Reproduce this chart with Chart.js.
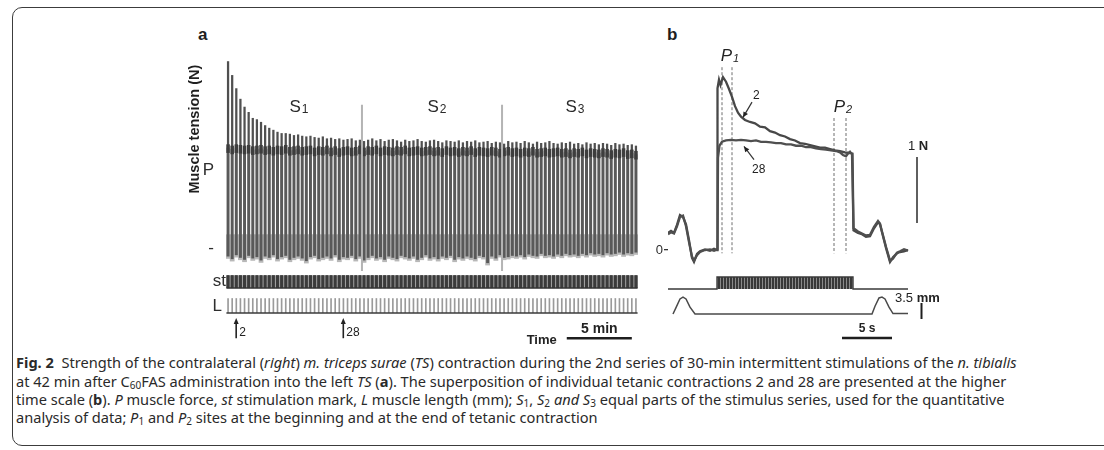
<!DOCTYPE html>
<html>
<head>
<meta charset="utf-8">
<script src="https://cdn.jsdelivr.net/npm/chart.js@4.4.1/dist/chart.umd.min.js"></script>
<style>
  html, body { margin: 0; padding: 0; background: #fff; }
  body { position: relative; width: 1104px; height: 450px; overflow: hidden; font-family: "Liberation Sans", Arial, sans-serif; color: #262626; }
  .frame { position: absolute; left: 12px; top: 7px; width: 1130px; height: 437px; border: 1.5px solid #3c3c3c; border-radius: 10px; }
  canvas { position: absolute; }
  .tag { position: absolute; font-weight: bold; font-size: 17px; line-height: 1; color: #1e1e1e; }
  .cap { position: absolute; left: 16px; white-space: nowrap; font-family: "Noto Sans", sans-serif; font-size: 14.6px; line-height: 1; color: #2a2a2a; }
  .cap sub { font-size: 10px; vertical-align: -2px; line-height: 0; }
</style>
</head>
<body>
<div class="frame"></div>
<div class="tag" style="left:198px;top:26px">a</div>
<div class="tag" style="left:667px;top:26px">b</div>

<canvas id="aTrace" width="458" height="221" style="left:180px;top:50px"></canvas>
<canvas id="aStim" width="458" height="24" style="left:180px;top:268px"></canvas>
<canvas id="aLength" width="458" height="55" style="left:180px;top:292px"></canvas>

<canvas id="bTrace" width="328" height="232" style="left:640px;top:40px"></canvas>
<canvas id="bStim" width="328" height="20" style="left:640px;top:272px"></canvas>
<canvas id="bLength" width="328" height="55" style="left:640px;top:292px"></canvas>

<div class="cap" style="top:355px"><b>Fig. 2</b>&nbsp; Strength of the contralateral (<i>right</i>) <i>m. triceps surae</i> (<i>TS</i>) contraction during the 2nd series of 30-min intermittent stimulations of the <i>n. tibialis</i></div>
<div class="cap" style="top:374px">at 42 min after C<sub>60</sub>FAS administration into the left <i>TS</i> (<b>a</b>). The superposition of individual tetanic contractions 2 and 28 are presented at the higher</div>
<div class="cap" style="top:392px">time scale (<b>b</b>). <i>P</i> muscle force, <i>st</i> stimulation mark, <i>L</i> muscle length (mm); <i>S</i><sub>1</sub>, <i>S</i><sub>2</sub> <i>and S</i><sub>3</sub> equal parts of the stimulus series, used for the quantitative</div>
<div class="cap" style="top:410px">analysis of data; <i>P</i><sub>1</sub> and <i>P</i><sub>2</sub> sites at the beginning and at the end of tetanic contraction</div>

<script>
// ---------- panel a: whole series, one value per tetanic contraction ----------
// peak force at the start of each tetanus (P1), N
const peakN = [
  2.83, 2.62, 2.42, 2.26, 2.14, 2.06, 1.97, 1.95, 1.91, 1.86,
  1.82, 1.79, 1.76, 1.74, 1.74, 1.73, 1.71, 1.72, 1.70, 1.69,
  1.70, 1.68, 1.67, 1.69, 1.66, 1.67, 1.65, 1.66, 1.64, 1.65,
  1.66, 1.63, 1.64, 1.62, 1.64, 1.66, 1.63, 1.65, 1.62, 1.64,
  1.65, 1.63, 1.61, 1.64, 1.62, 1.63, 1.65, 1.62, 1.61, 1.63,
  1.64, 1.62, 1.60, 1.63, 1.62, 1.61, 1.63, 1.60, 1.62, 1.61,
  1.63, 1.60, 1.61, 1.62, 1.59, 1.61, 1.60, 1.58, 1.62, 1.60,
  1.61, 1.59, 1.62, 1.60, 1.58, 1.61, 1.59, 1.60, 1.62, 1.59,
  1.58, 1.60, 1.59, 1.61, 1.58, 1.59, 1.57, 1.60, 1.58, 1.59,
  1.57, 1.59, 1.58, 1.56, 1.59, 1.57, 1.58, 1.56, 1.57, 1.55
];
// force at the end of each tetanus (P2), N
const endN = [
  1.52, 1.50, 1.52, 1.51, 1.50, 1.51, 1.49, 1.50, 1.51, 1.49,
  1.50, 1.48, 1.50, 1.49, 1.51, 1.48, 1.49, 1.50, 1.48, 1.49,
  1.50, 1.47, 1.49, 1.48, 1.50, 1.47, 1.49, 1.46, 1.48, 1.49,
  1.47, 1.48, 1.50, 1.47, 1.49, 1.48, 1.50, 1.47, 1.49, 1.48,
  1.47, 1.49, 1.48, 1.50, 1.47, 1.48, 1.49, 1.47, 1.48, 1.49,
  1.47, 1.48, 1.46, 1.49, 1.47, 1.48, 1.46, 1.48, 1.47, 1.49,
  1.46, 1.48, 1.47, 1.46, 1.48, 1.47, 1.45, 1.47, 1.48, 1.46,
  1.47, 1.45, 1.47, 1.46, 1.48, 1.45, 1.46, 1.47, 1.45, 1.46,
  1.47, 1.45, 1.46, 1.44, 1.46, 1.45, 1.47, 1.44, 1.46, 1.45,
  1.44, 1.46, 1.45, 1.43, 1.45, 1.44, 1.46, 1.43, 1.44, 1.42
];
// deepest dip of the length-change artefact between trains, N
const troughN = [
  -0.16, -0.20, -0.14, -0.18, -0.21, -0.15, -0.19, -0.17, -0.22, -0.16,
  -0.18, -0.14, -0.20, -0.17, -0.15, -0.21, -0.18, -0.16, -0.19, -0.23,
  -0.17, -0.15, -0.20, -0.18, -0.16, -0.19, -0.14, -0.21, -0.17, -0.18,
  -0.15, -0.20, -0.16, -0.22, -0.18, -0.15, -0.19, -0.17, -0.21, -0.16,
  -0.18, -0.20, -0.15, -0.17, -0.19, -0.16, -0.21, -0.18, -0.14, -0.19,
  -0.17, -0.20, -0.16, -0.18, -0.15, -0.21, -0.17, -0.19, -0.16, -0.18,
  -0.20, -0.15, -0.17, -0.26, -0.16, -0.19, -0.14, -0.18, -0.17, -0.15,
  -0.16, -0.14, -0.17, -0.13, -0.15, -0.16, -0.12, -0.15, -0.14, -0.16,
  -0.13, -0.15, -0.12, -0.14, -0.13, -0.15, -0.12, -0.14, -0.11, -0.13,
  -0.12, -0.14, -0.11, -0.13, -0.12, -0.10, -0.13, -0.11, -0.12, -0.10
];
const contractionNo = peakN.map((_, i) => i + 1);
const restTopN = 0.2;         // upper edge of the inter-train artefact
const cycleSec = 19;          // one stimulation cycle, s
const sectionBreaks = [33.5, 67.5];   // S1 | S2 | S3
const sectionNames = ['1', '2', '3'];
const sectionTopN = 2.17;
const pLabelN = 1.18;
const lengthShiftMm = 3.3;
const markedContractions = [2, 28];
const timeBarEnd = 99;        // contraction no. where the 5 min bar ends

// ---------- panel b: contractions 2 and 28 on a fast time base ----------
// [time s, force N]
const trace2 = [
  [0.0, 0.26], [0.3, 0.29], [0.6, 0.26], [0.9, 0.38], [1.2, 0.53], [1.5, 0.50], [1.8, 0.39],
  [2.1, 0.15], [2.4, -0.12], [2.6, -0.18], [2.9, -0.06], [3.2, -0.02], [3.7, 0.01], [4.2, -0.01],
  [4.6, 0.02], [4.9, 0.00], [4.95, 2.45], [5.1, 2.58], [5.25, 2.50], [5.5, 2.62], [5.8, 2.55],
  [6.1, 2.44], [6.4, 2.32], [6.7, 2.18], [7.0, 2.08], [7.3, 2.02], [7.7, 1.97], [8.2, 1.94],
  [8.7, 1.92], [9.2, 1.87], [9.7, 1.86], [10.2, 1.80], [10.7, 1.78], [11.2, 1.74], [11.7, 1.72],
  [12.2, 1.68], [12.7, 1.66], [13.2, 1.62], [13.7, 1.61], [14.2, 1.59], [14.7, 1.57], [15.2, 1.55],
  [15.7, 1.55], [16.2, 1.53], [16.7, 1.51], [17.2, 1.50], [17.7, 1.48], [18.2, 1.47], [18.45, 1.46],
  [18.55, 0.30], [19.0, 0.26], [19.4, 0.24], [19.8, 0.20], [20.2, 0.21], [20.6, 0.33], [21.0, 0.42],
  [21.2, 0.39], [21.4, 0.27], [21.8, 0.03], [22.2, -0.18], [22.5, -0.11], [22.9, -0.05], [23.2, -0.03],
  [23.6, -0.02], [24.0, 0.00]
];
const trace28 = [
  [0.0, 0.24], [0.3, 0.27], [0.6, 0.25], [0.9, 0.36], [1.2, 0.50], [1.5, 0.52], [1.8, 0.36],
  [2.1, 0.12], [2.4, -0.10], [2.6, -0.16], [2.9, -0.08], [3.2, -0.03], [3.7, 0.00], [4.2, 0.01],
  [4.6, -0.01], [4.95, 0.01], [5.0, 1.40], [5.15, 1.58], [5.4, 1.64], [5.8, 1.66], [6.3, 1.67],
  [6.8, 1.66], [7.3, 1.67], [7.8, 1.66], [8.3, 1.65], [8.8, 1.66], [9.3, 1.64], [9.8, 1.64],
  [10.3, 1.63], [10.8, 1.62], [11.3, 1.62], [11.8, 1.60], [12.3, 1.60], [12.8, 1.58], [13.3, 1.58],
  [13.8, 1.56], [14.3, 1.56], [14.8, 1.54], [15.3, 1.53], [15.8, 1.52], [16.3, 1.51], [16.8, 1.50],
  [17.2, 1.48], [17.5, 1.44], [17.8, 1.42], [18.0, 1.46], [18.2, 1.49], [18.4, 1.45],
  [18.55, 0.33], [19.0, 0.28], [19.4, 0.25], [19.8, 0.22], [20.2, 0.23], [20.6, 0.35], [21.0, 0.44],
  [21.2, 0.40], [21.4, 0.28], [21.8, 0.05], [22.2, -0.16], [22.5, -0.13], [22.9, -0.04], [23.2, -0.02],
  [23.6, 0.01], [24.0, -0.01]
];
// [time s, length change mm]
const lengthB = [
  [0.5, 0.0], [0.8, 1.4], [1.2, 3.3], [1.5, 3.7], [1.8, 3.3], [2.2, 1.5], [2.7, 0.0],
  [20.4, 0.0], [20.7, 1.7], [21.1, 3.5], [21.4, 3.7], [21.7, 3.3], [22.1, 1.5], [22.5, 0.1], [24.0, 0.1]
];
const sweepB = [0, 24];
const stimTrainB = [4.9, 18.5];
const p1Window = [5.4, 6.4];
const p2Window = [16.6, 17.8];
const p1TopN = 2.77, p2TopN = 2.0, windowFloorN = -0.05;
const forceBar = { at: 24.9, from: 0.41, span: 1 };
const lengthBar = { at: 25.35, from: -1.1, span: 3.5 };
const timeBar = { from: 17.4, span: 5, at: -5.25 };

// ---------- shared setup ----------
Chart.defaults.font.family = '"Liberation Sans", Arial, sans-serif';
Chart.defaults.color = '#2e2e2e';
Chart.defaults.animation = false;
Chart.defaults.responsive = false;
Chart.defaults.events = [];
Chart.defaults.plugins.legend.display = false;
Chart.defaults.plugins.tooltip.enabled = false;
Chart.defaults.elements.point.radius = 0;
Chart.defaults.elements.line.tension = 0;

const FONT = '"Liberation Sans", Arial, sans-serif';
const pts = (arr) => arr.map(([x, y]) => ({ x, y }));
const vline = (x, y0, y1) => [{ x, y: y0 }, { x, y: y1 }];
const hline = (x0, x1, y) => [{ x: x0, y }, { x: x1, y }];

// y axis of fixed width, no extra margin, carrying only hand-picked labels
function fixWidth(width) {
  return function (s) { s.width = width; s.paddingTop = 0; s.paddingBottom = 0; };
}
function labelAxis(min, max, width, ticks, size, padding) {
  return {
    min, max,
    afterFit: fixWidth(width),
    afterBuildTicks(s) { s.ticks = ticks.map(t => ({ value: t.value })); },
    ticks: { callback: (v, i) => ticks[i].text, font: { size }, padding, color: '#2e2e2e', autoSkip: false },
    grid: { display: false, drawTicks: false },
    border: { display: false }
  };
}

function bars(data, color, width, order) {
  return { type: 'bar', data, backgroundColor: color, barPercentage: width, categoryPercentage: 1,
           grouped: false, borderWidth: 0, order };
}

function arrowUp(ctx, x, yFrom, yTo) {
  ctx.beginPath(); ctx.moveTo(x, yFrom); ctx.lineTo(x, yTo + 4); ctx.stroke();
  ctx.beginPath(); ctx.moveTo(x, yTo); ctx.lineTo(x - 2.5, yTo + 6); ctx.lineTo(x + 2.5, yTo + 6);
  ctx.closePath(); ctx.fill();
}
function arrowTo(ctx, x1, y1, x2, y2) {
  const a = Math.atan2(y2 - y1, x2 - x1), h = 6;
  ctx.beginPath(); ctx.moveTo(x1, y1); ctx.lineTo(x2, y2); ctx.stroke();
  ctx.beginPath(); ctx.moveTo(x2, y2);
  ctx.lineTo(x2 - h * Math.cos(a - 0.45), y2 - h * Math.sin(a - 0.45));
  ctx.lineTo(x2 - h * Math.cos(a + 0.45), y2 - h * Math.sin(a + 0.45));
  ctx.closePath(); ctx.fill();
}
// letter followed by a small index on (nearly) the same baseline
function indexed(ctx, base, idx, cx, baseline, baseFont, idxFont, drop) {
  ctx.font = baseFont; const w1 = ctx.measureText(base).width;
  ctx.font = idxFont; const w2 = ctx.measureText(idx).width;
  const left = cx - (w1 + w2 + 1) / 2;
  ctx.textAlign = 'left'; ctx.textBaseline = 'alphabetic';
  ctx.font = baseFont; ctx.fillText(base, left, baseline);
  ctx.font = idxFont; ctx.fillText(idx, left + w1 + 1, baseline + drop);
}
function mixed(ctx, parts, x, baseline, align) {
  let w = 0;
  parts.forEach(p => { ctx.font = p.font; w += ctx.measureText(p.text).width; });
  let left = align === 'center' ? x - w / 2 : align === 'right' ? x - w : x;
  ctx.textAlign = 'left'; ctx.textBaseline = 'alphabetic';
  parts.forEach(p => { ctx.font = p.font; ctx.fillText(p.text, left, baseline); left += ctx.measureText(p.text).width; });
}

const xContractions = { type: 'linear', min: 0.5, max: 100.5, offset: false, display: false };

// ---------- panel a: force record ----------
const aTraceText = {
  id: 'aTraceText',
  afterDatasetsDraw(chart) {
    const { ctx, scales: { x, y } } = chart;
    ctx.save();
    ctx.fillStyle = '#1f1f1f';
    ctx.translate(y.left + 15, y.getPixelForValue(1.8));
    ctx.rotate(-Math.PI / 2);
    ctx.font = 'bold 14.5px ' + FONT;
    ctx.textAlign = 'center'; ctx.textBaseline = 'middle';
    ctx.fillText('Muscle tension (N)', 0, 0);
    ctx.restore();

    ctx.save();
    ctx.fillStyle = '#2a2a2a';
    const edges = [0.5, ...sectionBreaks, 100.5];
    sectionNames.forEach((n, i) => {
      const cx = x.getPixelForValue((edges[i] + edges[i + 1]) / 2) + 5;
      indexed(ctx, 'S', n, cx, y.getPixelForValue(2.06), '17px ' + FONT, '12px ' + FONT, 1);
    });
    ctx.restore();
  }
};

new Chart(document.getElementById('aTrace'), {
  type: 'bar',
  data: {
    datasets: [
      bars(contractionNo.map((x, i) => ({ x, y: [troughN[i], restTopN] })), '#b8b8b8', 1, 5),
      bars(contractionNo.map((x, i) => ({ x, y: [troughN[i] + 0.03, endN[i]] })), '#595959', 0.72, 4),
      bars(contractionNo.map((x, i) => ({ x, y: [endN[i], peakN[i]] })), '#505050', 0.55, 3),
      bars(contractionNo.map((x, i) => ({ x, y: [endN[i] - 0.08, endN[i] + 0.05] })), '#3d3d3d', 0.85, 2),
      ...sectionBreaks.map(b => ({ type: 'line', data: vline(b, sectionTopN, -0.35),
        borderColor: '#b4b4b4', borderWidth: 2, order: 1 }))
    ]
  },
  options: {
    scales: {
      x: xContractions,
      y: labelAxis(-0.35, 3.0, 46, [{ value: 0, text: '-' }, { value: pLabelN, text: 'P' }], 17, 12)
    }
  },
  plugins: [aTraceText]
});

// ---------- panel a: stimulation mark ----------
new Chart(document.getElementById('aStim'), {
  type: 'bar',
  data: {
    datasets: [
      bars(contractionNo.map(x => ({ x, y: [0.05, 0.95] })), '#9c9c9c', 1, 3),
      bars(contractionNo.map(x => ({ x, y: [0, 1] })), '#3b3b3b', 0.74, 2),
      { type: 'line', data: hline(contractionNo[0] - 0.4, contractionNo[contractionNo.length - 1] + 0.4, 0),
        borderColor: '#333', borderWidth: 1.5, order: 1 }
    ]
  },
  options: {
    scales: {
      x: xContractions,
      y: labelAxis(-0.3, 1.55, 46, [{ value: 0.5, text: 'st' }], 17, 0)
    }
  }
});

// ---------- panel a: muscle length and time base ----------
const aLengthText = {
  id: 'aLengthText',
  afterDatasetsDraw(chart) {
    const { ctx, scales: { x, y } } = chart;
    ctx.save();
    ctx.fillStyle = '#222'; ctx.strokeStyle = '#222'; ctx.lineWidth = 1.6;
    markedContractions.forEach(n => {
      const px = x.getPixelForValue(n) + 4;
      arrowUp(ctx, px, y.getPixelForValue(-5.6), y.getPixelForValue(-1.1));
      ctx.font = '12px ' + FONT; ctx.textAlign = 'left'; ctx.textBaseline = 'alphabetic';
      ctx.fillText(String(n), px + 3, y.getPixelForValue(-5.2));
    });
    const barStart = x.getPixelForValue(timeBarEnd - 300 / cycleSec);
    const barEnd = x.getPixelForValue(timeBarEnd);
    ctx.font = 'bold 14px ' + FONT; ctx.textAlign = 'center';
    ctx.fillText('5 min', (barStart + barEnd) / 2, y.getPixelForValue(-4.4));
    ctx.font = 'bold 13px ' + FONT; ctx.textAlign = 'right';
    ctx.fillText('Time', barStart - 10, y.getPixelForValue(-6.9));
    ctx.restore();
  }
};

new Chart(document.getElementById('aLength'), {
  type: 'bar',
  data: {
    datasets: [
      bars(contractionNo.map(x => ({ x, y: [0, lengthShiftMm] })), '#9a9a9a', 0.4, 2),
      { type: 'line', data: hline(contractionNo[0] - 0.4, contractionNo[contractionNo.length - 1] + 0.4, 0),
        borderColor: '#3a3a3a', borderWidth: 1.5, order: 1 },
      { type: 'line', data: hline(timeBarEnd - 300 / cycleSec, timeBarEnd, -5.6),
        borderColor: '#1e1e1e', borderWidth: 2.5, order: 1 }
    ]
  },
  options: {
    scales: {
      x: xContractions,
      y: labelAxis(-7.55, 4.67, 46, [{ value: 1.6, text: 'L' }], 17, 4)
    }
  },
  plugins: [aLengthText]
});

// ---------- panel b: superimposed tetani ----------
const xSeconds = { type: 'linear', min: 0, max: 30, display: false };
const dashed = (t, top) => ({ data: vline(t, top, windowFloorN), borderColor: '#6e6e6e',
  borderWidth: 1, borderDash: [3, 2] });

const bTraceText = {
  id: 'bTraceText',
  afterDatasetsDraw(chart) {
    const { ctx, scales: { x, y } } = chart;
    ctx.save();
    ctx.fillStyle = '#222'; ctx.strokeStyle = '#333'; ctx.lineWidth = 1.2;
    indexed(ctx, 'P', '1', x.getPixelForValue((p1Window[0] + p1Window[1]) / 2) + 3, y.getPixelForValue(2.86),
      'italic 17px ' + FONT, 'italic 11px ' + FONT, 1);
    indexed(ctx, 'P', '2', x.getPixelForValue((p2Window[0] + p2Window[1]) / 2) + 3, y.getPixelForValue(2.09),
      'italic 17px ' + FONT, 'italic 11px ' + FONT, 1);
    ctx.font = '12px ' + FONT; ctx.textAlign = 'left'; ctx.textBaseline = 'alphabetic';
    ctx.fillText('2', x.getPixelForValue(8.5), y.getPixelForValue(2.29));
    arrowTo(ctx, x.getPixelForValue(8.4), y.getPixelForValue(2.24), x.getPixelForValue(7.5), y.getPixelForValue(2.01));
    ctx.fillText('28', x.getPixelForValue(8.4), y.getPixelForValue(1.16));
    arrowTo(ctx, x.getPixelForValue(8.6), y.getPixelForValue(1.37), x.getPixelForValue(7.6), y.getPixelForValue(1.57));
    mixed(ctx, [{ text: '1 ', font: '13px ' + FONT }, { text: 'N', font: 'bold 13px ' + FONT }],
      x.getPixelForValue(forceBar.at) + 1, y.getPixelForValue(forceBar.from + forceBar.span + 0.1), 'center');
    ctx.restore();
  }
};

new Chart(document.getElementById('bTrace'), {
  type: 'line',
  data: {
    datasets: [
      { data: pts(trace28), borderColor: '#4f4f4f', borderWidth: 2.3 },
      { data: pts(trace2), borderColor: '#484848', borderWidth: 2.3 },
      ...p1Window.map(t => dashed(t, p1TopN)),
      ...p2Window.map(t => dashed(t, p2TopN)),
      { data: vline(forceBar.at, forceBar.from, forceBar.from + forceBar.span), borderColor: '#2a2a2a', borderWidth: 1.5 }
    ]
  },
  options: {
    scales: {
      x: xSeconds,
      y: {
        min: -0.333, max: 3.182,
        afterFit: fixWidth(28),
        afterBuildTicks(s) { s.ticks = [{ value: 0 }]; },
        ticks: { callback: () => '0', font: { size: 13 }, padding: 1, color: '#2e2e2e' },
        grid: { display: true, drawOnChartArea: false, drawTicks: true, tickLength: 4, color: '#333', lineWidth: 1.3 },
        border: { display: false }
      }
    }
  },
  plugins: [bTraceText]
});

// stimulation train drawn as a raised step filled with fine vertical hatching
const hatch = document.createElement('canvas');
hatch.width = 3; hatch.height = 4;
const hctx = hatch.getContext('2d');
hctx.fillStyle = '#383838'; hctx.fillRect(0, 0, 2, 4);
hctx.fillStyle = '#8a8a8a'; hctx.fillRect(2, 0, 1, 4);
const hatchFill = hctx.createPattern(hatch, 'repeat');

new Chart(document.getElementById('bStim'), {
  type: 'line',
  data: {
    datasets: [{
      data: [
        { x: sweepB[0], y: 0 }, { x: stimTrainB[0], y: 0 }, { x: stimTrainB[0], y: 1 },
        { x: stimTrainB[1], y: 1 }, { x: stimTrainB[1], y: 0 }, { x: sweepB[1], y: 0 }
      ],
      borderColor: '#3a3a3a', borderWidth: 1.4, fill: 'origin', backgroundColor: hatchFill
    }]
  },
  options: {
    layout: { padding: { left: 28 } },
    scales: { x: xSeconds, y: { min: -0.25, max: 1.417, display: false } }
  }
});

const bLengthText = {
  id: 'bLengthText',
  afterDatasetsDraw(chart) {
    const { ctx, scales: { x, y } } = chart;
    ctx.save();
    ctx.fillStyle = '#222';
    mixed(ctx, [{ text: '3.5 ', font: '13px ' + FONT }, { text: 'mm', font: 'bold 13px ' + FONT }],
      x.getPixelForValue(22.7), y.getPixelForValue(2.6), 'left');
    ctx.font = 'bold 12px ' + FONT; ctx.textAlign = 'center'; ctx.textBaseline = 'alphabetic';
    ctx.fillText('5 s', x.getPixelForValue(timeBar.from + timeBar.span / 2), y.getPixelForValue(-4.0));
    ctx.restore();
  }
};

new Chart(document.getElementById('bLength'), {
  type: 'line',
  data: {
    datasets: [
      { data: pts(lengthB), borderColor: '#4a4a4a', borderWidth: 1.5 },
      { data: vline(lengthBar.at, lengthBar.from, lengthBar.from + lengthBar.span), borderColor: '#1e1e1e', borderWidth: 2 },
      { data: hline(timeBar.from, timeBar.from + timeBar.span, timeBar.at), borderColor: '#1e1e1e', borderWidth: 2.5 }
    ]
  },
  options: {
    layout: { padding: { left: 28 } },
    scales: { x: xSeconds, y: { min: -7.22, max: 4.81, display: false } }
  },
  plugins: [bLengthText]
});
</script>
</body>
</html>
